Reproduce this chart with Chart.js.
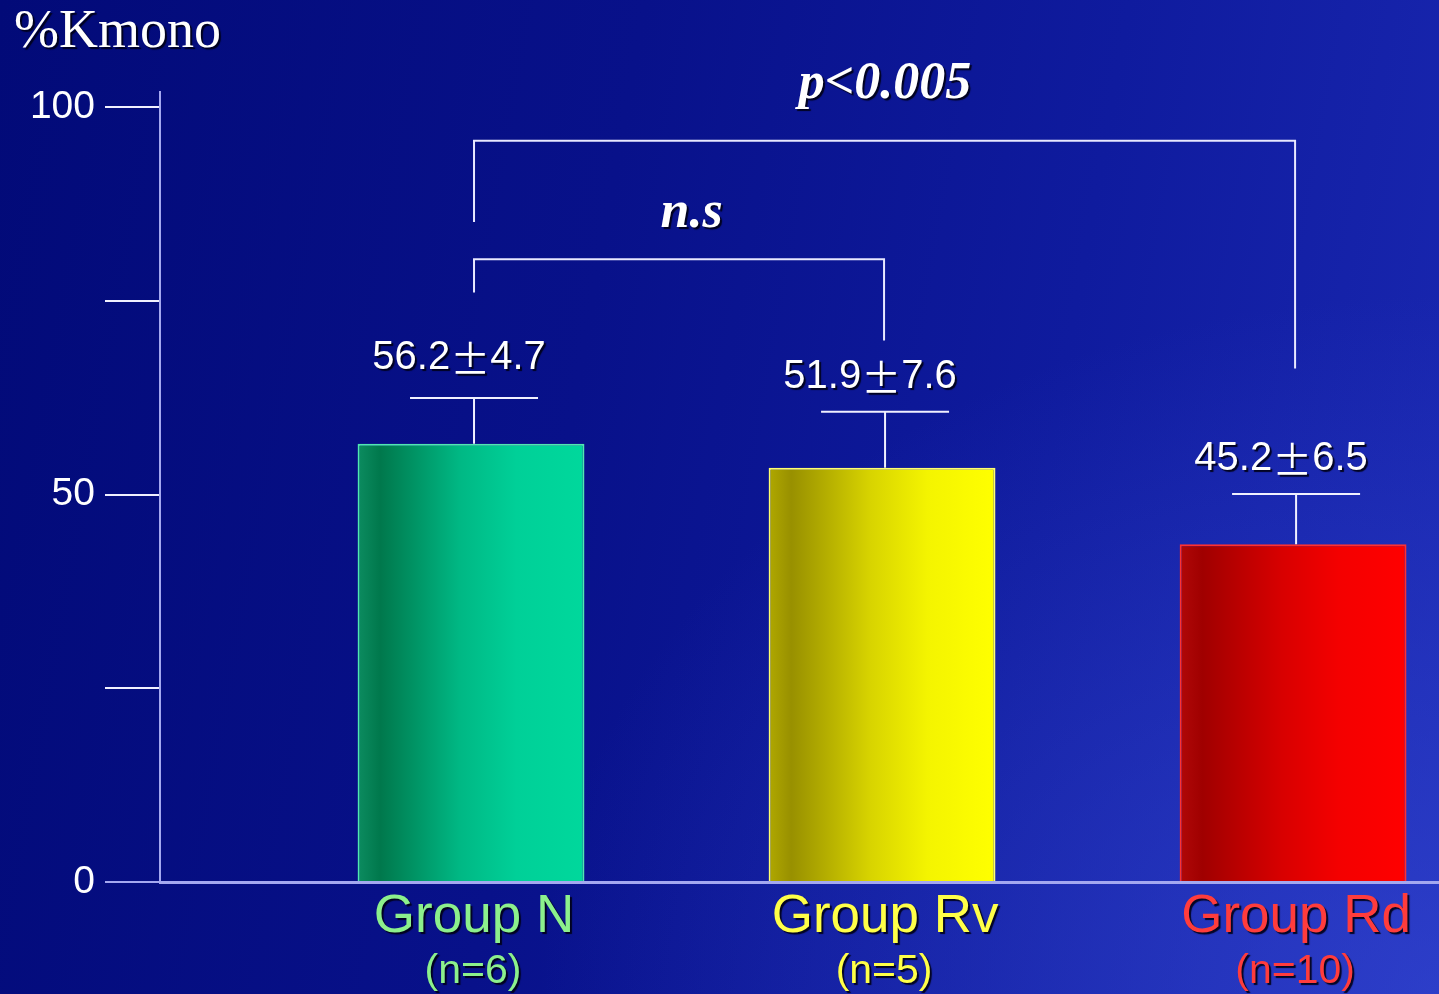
<!DOCTYPE html>
<html><head><meta charset="utf-8">
<script src="https://cdn.jsdelivr.net/npm/chart.js@4.4.1/dist/chart.umd.min.js"></script>
<style>
html,body{margin:0;padding:0;width:1439px;height:994px;overflow:hidden;}
body{background:
  radial-gradient(ellipse 900px 700px at 1439px 994px, rgba(60,80,220,0.55), rgba(60,80,220,0) 100%),
  linear-gradient(100deg, #020a78 0%, #08118a 40%, #0f1b9e 70%, #1a28b2 100%);}
canvas{display:block;}
</style></head><body>
<canvas id="c" width="1439" height="994"></canvas>
<script>
// ---- data ----
const categories = ['Group N', 'Group Rv', 'Group Rd'];
const sampleSizes = ['(n=6)', '(n=5)', '(n=10)'];
const meanValues = ['56.2', '51.9', '45.2'];
const sdValues = ['4.7', '7.6', '6.5'];
const barValues = [56.6, 53.5, 43.6];      // bar heights as drawn
const errorTops = [62.5, 60.7, 50.1];      // top of error whiskers as drawn
const yTicks = [0, 25, 50, 75, 100];
const yTickLabels = ['0', '', '50', '', '100'];
const bracketFrom = [0, 0];
const bracketTo = [2, 1];
const bracketTop = [95.7, 80.4];
const bracketLeftEnd = [85.2, 76.1];
const bracketRightEnd = [66.3, 69.9];
const bracketLabels = ['p<0.005', 'n.s'];
const axisTitle = '%Kmono';

// ---- styles ----
const gradStops = [
  ['#0c8c60', '#00784c', '#00b884', '#00d098', '#00d89c'],
  ['#b0a800', '#989000', '#d8d400', '#f4f400', '#ffff00'],
  ['#b00808', '#a00000', '#d80000', '#f40000', '#ff0000']
];
const borderCols = ['#50e8b0', '#ffff70', '#ff3030'];
const labelCols = ['#8cf08c', '#ffff48', '#ff3c3c'];
const axisCol = '#a4a8f0';
const sansFont = '"Liberation Sans", Arial, sans-serif';

function drawMeanLabel(ctx, mean, sd, cx, cy) {
  const numFont = '40px ' + sansFont;
  const pmFont = '40px "Noto Sans CJK JP", sans-serif';
  ctx.font = numFont;
  const w1 = ctx.measureText(mean).width, w3 = ctx.measureText(sd).width;
  ctx.font = pmFont;
  const w2 = ctx.measureText('±').width;
  let x = cx - (w1 + w2 + w3) / 2;
  ctx.textAlign = 'left';
  ctx.font = numFont; ctx.fillText(mean, x, cy); x += w1;
  ctx.font = pmFont; ctx.fillText('±', x, cy + 1); x += w2;
  ctx.font = numFont; ctx.fillText(sd, x, cy);
  ctx.textAlign = 'center';
}

const overlay = {
  id: 'overlay',
  beforeDatasetsDraw(chart) {
    const meta = chart.getDatasetMeta(0);
    const ctx = chart.ctx;
    meta.data.forEach((el, i) => {
      const l = el.x - el.width / 2, r = el.x + el.width / 2;
      const g = ctx.createLinearGradient(l, 0, r, 0);
      const s = gradStops[i];
      g.addColorStop(0, s[0]); g.addColorStop(0.1, s[1]); g.addColorStop(0.45, s[2]);
      g.addColorStop(0.7, s[3]); g.addColorStop(1, s[4]);
      el.options.backgroundColor = g;
    });
  },
  afterDraw(chart) {
    const ctx = chart.ctx;
    const y = chart.scales.y;
    const meta = chart.getDatasetMeta(0);
    ctx.save();
    // error bars
    ctx.strokeStyle = '#f0f0ff';
    ctx.lineWidth = 2;
    meta.data.forEach((el, i) => {
      const yt = y.getPixelForValue(errorTops[i]);
      const yb = y.getPixelForValue(barValues[i]);
      const x = el.x + 3;
      ctx.beginPath();
      ctx.moveTo(x, yb); ctx.lineTo(x, yt);
      ctx.moveTo(x - 64, yt); ctx.lineTo(x + 64, yt);
      ctx.stroke();
    });
    // brackets
    ctx.strokeStyle = '#e8e8ff';
    bracketFrom.forEach((f, k) => {
      const x1 = meta.data[f].x + 3, x2 = meta.data[bracketTo[k]].x + 2;
      const yt = y.getPixelForValue(bracketTop[k]);
      ctx.beginPath();
      ctx.moveTo(x1, y.getPixelForValue(bracketLeftEnd[k]));
      ctx.lineTo(x1, yt); ctx.lineTo(x2, yt);
      ctx.lineTo(x2, y.getPixelForValue(bracketRightEnd[k]));
      ctx.stroke();
    });
    // texts with shadow
    ctx.shadowColor = 'rgba(0,0,20,0.9)';
    ctx.shadowOffsetX = 2; ctx.shadowOffsetY = 2; ctx.shadowBlur = 1;
    ctx.textAlign = 'center'; ctx.textBaseline = 'middle';
    ctx.fillStyle = '#ffffff';
    meta.data.forEach((el, i) => {
      const yt = y.getPixelForValue(errorTops[i]);
      drawMeanLabel(ctx, meanValues[i], sdValues[i], el.x - 12, yt - (i === 0 ? 40 : 35));
    });
    ctx.font = 'italic bold 52px "Liberation Serif", "Times New Roman", serif';
    const bl0 = (meta.data[bracketFrom[0]].x + meta.data[bracketTo[0]].x) / 2;
    ctx.fillText(bracketLabels[0], bl0 + 3, y.getPixelForValue(bracketTop[0]) - 56);
    const bl1 = (meta.data[bracketFrom[1]].x + meta.data[bracketTo[1]].x) / 2;
    ctx.fillText(bracketLabels[1], bl1 + 15, y.getPixelForValue(bracketTop[1]) - 46);
    // category labels
    meta.data.forEach((el, i) => {
      ctx.fillStyle = labelCols[i];
      ctx.font = '53px ' + sansFont;
      ctx.fillText(categories[i], el.x + 3, 917);
      ctx.font = '41px ' + sansFont;
      ctx.fillText(sampleSizes[i], el.x + 2, 972);
    });
    // axis title
    ctx.fillStyle = '#ffffff';
    ctx.textAlign = 'left';
    ctx.font = '54px "Liberation Serif", "Times New Roman", serif';
    ctx.fillText(axisTitle, 14, 33);
    ctx.restore();
  }
};

new Chart(document.getElementById('c'), {
  type: 'bar',
  data: {
    datasets: [{
      data: barValues.map((v, i) => ({ x: i + 1, y: v })),
      backgroundColor: gradStops.map(s => s[4]),
      borderColor: borderCols,
      borderWidth: 2,
      borderSkipped: 'bottom',
      barPercentage: 0.552,
      categoryPercentage: 1
    }]
  },
  options: {
    responsive: false,
    animation: false,
    layout: { padding: { top: 92, left: 0, right: 0, bottom: 0 } },
    plugins: { legend: { display: false }, tooltip: { enabled: false } },
    scales: {
      x: {
        type: 'linear', min: 0.2433, max: 3.355, offset: false,
        afterBuildTicks(s) { s.ticks = categories.map((c, i) => ({ value: i + 1 })); },
        grid: { display: false },
        ticks: { display: false },
        border: { display: true, color: axisCol, width: 3 },
        afterFit(s) { s.height = 112; }
      },
      y: {
        min: 0, max: 102,
        afterBuildTicks(s) { s.ticks = yTicks.map(v => ({ value: v })); },
        ticks: {
          color: '#ffffff', padding: 10,
          font: { family: sansFont, size: 39 },
          callback: (v) => yTickLabels[yTicks.indexOf(v)]
        },
        grid: {
          drawOnChartArea: false, drawTicks: true, tickLength: 55,
          color: (c) => c.tick && c.tick.value === 0 ? axisCol : '#f0f0ff', lineWidth: 2
        },
        border: { display: true, color: axisCol, width: 2 },
        afterFit(s) { s.width = 160; }
      }
    }
  },
  plugins: [overlay]
});
</script>
</body></html>
